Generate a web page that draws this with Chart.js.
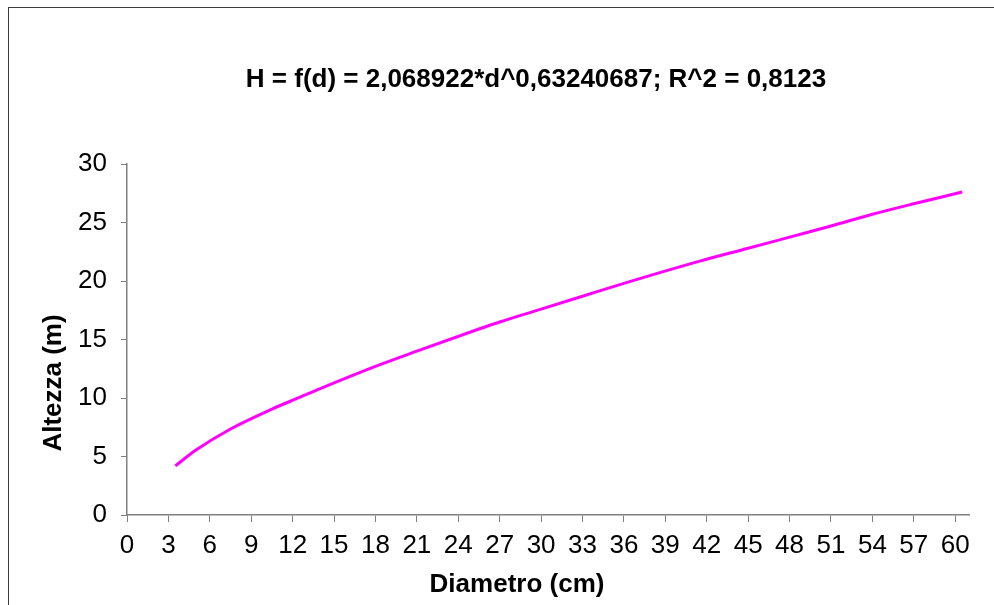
<!DOCTYPE html>
<html>
<head>
<meta charset="utf-8">
<script src="https://cdn.jsdelivr.net/npm/chart.js@4.4.1/dist/chart.umd.min.js"></script>
<style>
  html, body { margin: 0; padding: 0; background: #fff; }
</style>
</head>
<body>
<canvas id="chart" width="994" height="605"></canvas>
<script>
var diametro = [3.5, 5, 7.5, 10.5, 12.5, 14, 18, 21, 25.5, 27, 30, 33, 36, 41.5, 45, 48, 51, 54, 57, 60.5];
var altezza = [4.2, 5.55, 7.35, 9.05, 10.05, 10.8, 12.7, 14.0, 15.9, 16.5, 17.6, 18.7, 19.8, 21.7, 22.8, 23.75, 24.7, 25.7, 26.6, 27.6];
var xTicks = [0, 3, 6, 9, 12, 15, 18, 21, 24, 27, 30, 33, 36, 39, 42, 45, 48, 51, 54, 57, 60];
var titolo = "H = f(d) = 2,068922*d^0,63240687; R^2 = 0,8123";
var titoloX = "Diametro (cm)";
var titoloY = "Altezza (m)";

var FONT = "'Liberation Sans', Arial, sans-serif";

// excel-like frame and titles placed where the original has them
var decor = {
    id: 'decor',
    beforeDraw: function(chart) {
        var ctx = chart.ctx;
        ctx.save();
        ctx.strokeStyle = '#3c3c3c';
        ctx.lineWidth = 1;
        ctx.strokeRect(8.5, 7.5, 2000, 2000);
        ctx.restore();
    },
    afterDraw: function(chart) {
        var ctx = chart.ctx;
        ctx.save();
        ctx.fillStyle = '#000';
        ctx.font = 'bold 26px ' + FONT;
        ctx.textAlign = 'center';
        ctx.textBaseline = 'middle';
        ctx.fillText(titolo, 536, 80);
        ctx.fillText(titoloX, 517, 585);
        ctx.translate(54, 383);
        ctx.rotate(-Math.PI / 2);
        ctx.fillText(titoloY, 0, 0);
        ctx.restore();
    }
};

var points = diametro.map(function(d, i) { return {x: d, y: altezza[i]}; });

var ctx = document.getElementById('chart').getContext('2d');
var myChart = new Chart(ctx, {
    type: 'line',
    data: {
        datasets: [{
            label: 'H',
            data: points,
            borderColor: '#ff00ff',
            borderWidth: 3,
            pointRadius: 0,
            fill: false,
            cubicInterpolationMode: 'monotone'
        }]
    },
    options: {
        responsive: false,
        animation: false,
        layout: { padding: { left: 0, top: 164, right: 25, bottom: 0 } },
        plugins: {
            legend: { display: false },
            title: { display: false },
            tooltip: { enabled: false }
        },
        scales: {
            x: {
                type: 'linear',
                min: 0,
                max: 61,
                afterBuildTicks: function(axis) {
                    axis.ticks = xTicks.map(function(v) { return {value: v}; });
                },
                afterFit: function(scale) { scale.height = 90; },
                ticks: {
                    autoSkip: false,
                    maxRotation: 0,
                    color: '#000',
                    padding: 8,
                    font: { family: FONT, size: 26 }
                },
                grid: {
                    drawOnChartArea: false,
                    drawTicks: true,
                    tickLength: 7,
                    color: '#808080'
                },
                border: { color: '#808080', width: 1.5 }
            },
            y: {
                min: 0,
                max: 30,
                afterFit: function(scale) { scale.width = 127; },
                ticks: {
                    stepSize: 5,
                    color: '#000',
                    padding: 14,
                    font: { family: FONT, size: 26 }
                },
                grid: {
                    drawOnChartArea: false,
                    drawTicks: true,
                    tickLength: 6,
                    color: '#808080'
                },
                border: { color: '#808080', width: 1.5 }
            }
        }
    },
    plugins: [decor]
});
</script>
</body>
</html>
